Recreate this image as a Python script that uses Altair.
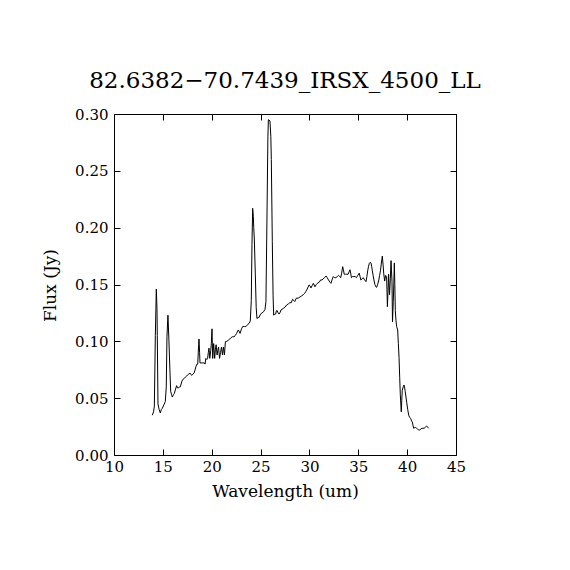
import altair as alt
import pandas as pd

wavelength = [
    13.92, 14.05, 14.13, 14.23, 14.33, 14.40, 14.43, 14.50, 14.62, 14.74, 14.84, 14.94,
    15.10, 15.25, 15.35, 15.42, 15.52, 15.62, 15.72, 15.80, 15.90, 15.97, 16.08, 16.17,
    16.30, 16.41, 16.50, 16.60, 16.70, 16.79, 16.95, 17.10, 17.25, 17.44, 17.60, 17.78,
    17.95, 18.05, 18.19, 18.30, 18.39, 18.50, 18.57, 18.66, 18.70, 18.76, 18.80, 18.95,
    19.10, 19.24, 19.32, 19.40, 19.50, 19.58, 19.65, 19.72, 19.80, 19.90, 19.96, 20.03,
    20.10, 20.20, 20.30, 20.38, 20.45, 20.55, 20.62, 20.70, 20.80, 20.90, 21.00, 21.10,
    21.20, 21.30, 21.40, 21.55, 21.70, 21.85, 21.95, 22.10, 22.28, 22.40, 22.55, 22.65,
    22.73, 22.90, 23.05, 23.17, 23.35, 23.50, 23.70, 23.85, 23.95, 24.05, 24.12, 24.19,
    24.26, 24.30, 24.36, 24.46, 24.55, 24.63, 24.75, 24.84, 25.00, 25.15, 25.30, 25.45,
    25.55, 25.66, 25.75, 25.80, 25.96, 26.05, 26.10, 26.20, 26.28, 26.34, 26.45, 26.55,
    26.62, 26.70, 26.80, 26.90, 27.00, 27.09, 27.33, 27.50, 27.67, 27.85, 28.00, 28.15,
    28.27, 28.40, 28.50, 28.66, 28.85, 29.03, 29.20, 29.37, 29.50, 29.64, 29.77, 29.96,
    30.05, 30.16, 30.28, 30.40, 30.57, 30.70, 30.80, 31.00, 31.15, 31.30, 31.40, 31.55,
    31.70, 31.82, 31.95, 32.10, 32.20, 32.35, 32.44, 32.55, 32.70, 32.85, 32.98, 33.10,
    33.20, 33.30, 33.40, 33.48, 33.56, 33.70, 33.80, 33.96, 34.05, 34.15, 34.22, 34.30,
    34.42, 34.55, 34.68, 34.80, 34.95, 35.10, 35.18, 35.26, 35.40, 35.50, 35.65, 35.79,
    35.88, 35.96, 36.05, 36.13, 36.22, 36.30, 36.37, 36.44, 36.52, 36.60, 36.70, 36.80,
    36.88, 36.98, 37.10, 37.18, 37.27, 37.35, 37.46, 37.53, 37.60, 37.70, 37.80, 37.90,
    37.98, 38.05, 38.10, 38.20, 38.28, 38.35, 38.40, 38.45, 38.50, 38.58, 38.64, 38.69,
    38.74, 38.79, 38.86, 38.93, 39.03, 39.10, 39.17, 39.24, 39.30, 39.40, 39.45, 39.50,
    39.60, 39.68, 39.75, 39.80, 39.88, 39.96, 40.06, 40.16, 40.27, 40.37, 40.45, 40.53,
    40.60, 40.67, 40.77, 40.87, 40.97, 41.07, 41.17, 41.28, 41.40, 41.50, 41.62, 41.74,
    41.87, 42.00, 42.10, 42.20,
]

flux = [
    0.035, 0.038, 0.043, 0.105, 0.146, 0.129, 0.105, 0.045, 0.040, 0.037, 0.040, 0.041,
    0.044, 0.047, 0.060, 0.104, 0.123, 0.101, 0.075, 0.056, 0.053, 0.051, 0.053, 0.054,
    0.058, 0.061, 0.059, 0.059, 0.060, 0.060, 0.065, 0.067, 0.068, 0.0695, 0.071, 0.072,
    0.070, 0.071, 0.072, 0.075, 0.078, 0.080, 0.080, 0.097, 0.102, 0.090, 0.081, 0.081,
    0.081, 0.081, 0.080, 0.085, 0.084, 0.085, 0.090, 0.094, 0.085, 0.092, 0.098, 0.111,
    0.085, 0.098, 0.085, 0.093, 0.097, 0.088, 0.092, 0.095, 0.085, 0.090, 0.095, 0.088,
    0.095, 0.088, 0.0997, 0.100, 0.101, 0.102, 0.103, 0.104, 0.104, 0.105, 0.107, 0.109,
    0.110, 0.107, 0.111, 0.113, 0.113, 0.113, 0.115, 0.116, 0.118, 0.136, 0.185, 0.217,
    0.210, 0.200, 0.190, 0.160, 0.130, 0.120, 0.121, 0.121, 0.124, 0.125, 0.126, 0.128,
    0.135, 0.213, 0.280, 0.295, 0.294, 0.280, 0.260, 0.188, 0.140, 0.123, 0.124, 0.124,
    0.127, 0.127, 0.125, 0.124, 0.1255, 0.1276, 0.129, 0.130, 0.132, 0.133, 0.134, 0.134,
    0.137, 0.136, 0.135, 0.138, 0.138, 0.139, 0.140, 0.141, 0.142, 0.144, 0.146, 0.1496,
    0.149, 0.147, 0.149, 0.151, 0.148, 0.150, 0.151, 0.152, 0.154, 0.154, 0.155, 0.156,
    0.1575, 0.156, 0.154, 0.152, 0.151, 0.155, 0.157, 0.156, 0.156, 0.157, 0.158, 0.157,
    0.156, 0.160, 0.1657, 0.163, 0.159, 0.159, 0.159, 0.159, 0.161, 0.163, 0.160, 0.156,
    0.157, 0.157, 0.157, 0.156, 0.158, 0.160, 0.157, 0.154, 0.155, 0.156, 0.154, 0.1525,
    0.157, 0.162, 0.166, 0.1686, 0.1695, 0.169, 0.166, 0.162, 0.158, 0.154, 0.150, 0.148,
    0.1475, 0.150, 0.154, 0.158, 0.162, 0.168, 0.175, 0.168, 0.160, 0.153, 0.158, 0.157,
    0.1305, 0.145, 0.159, 0.141, 0.155, 0.171, 0.162, 0.153, 0.117, 0.135, 0.152, 0.169,
    0.150, 0.127, 0.118, 0.113, 0.110, 0.098, 0.086, 0.068, 0.053, 0.038, 0.048, 0.057,
    0.060, 0.0616, 0.059, 0.056, 0.051, 0.046, 0.040, 0.035, 0.033, 0.032, 0.030, 0.029,
    0.026, 0.0235, 0.0240, 0.0244, 0.0235, 0.0226, 0.0222, 0.0220, 0.0228, 0.0235, 0.0235, 0.0235,
    0.0245, 0.0255, 0.0245, 0.0235,
]

x_ticks = [10, 15, 20, 25, 30, 35, 40, 45]
y_ticks = [0.0, 0.05, 0.10, 0.15, 0.20, 0.25, 0.30]
title_text = "82.6382\u221270.7439_IRSX_4500_LL"

df = pd.DataFrame({"w": wavelength, "f": flux})

FONT = "DejaVu Serif"
xscale = alt.Scale(domain=[10, 45], nice=False, zero=False)
yscale = alt.Scale(domain=[0, 0.30], nice=False, zero=False)

common = dict(domain=False, grid=False, tickSize=6, tickColor="black", tickWidth=1,
              offset=-6, labelColor="black", labelFont=FONT, labelFontSize=15,
              labelFlush=False, labelOverlap=False,
              titleColor="black", titleFont=FONT, titleFontSize=17, titleFontWeight="normal")

main = alt.Chart(df).mark_line(color="black", strokeWidth=1).encode(
    x=alt.X("w:Q", scale=xscale, axis=alt.Axis(
        orient="bottom", values=x_ticks, format="d", labelPadding=4,
        title="Wavelength (um)", titleBaseline="alphabetic", titleY=47, **common)),
    y=alt.Y("f:Q", scale=yscale, axis=alt.Axis(
        orient="left", values=y_ticks, format=".2f", labelPadding=6,
        title="Flux (Jy)", titleAngle=270, titleBaseline="alphabetic",
        titleAlign="center", titleX=-65, titleY=171, **common)),
)

frame = alt.Chart(df).mark_line(strokeOpacity=0).encode(
    x=alt.X("w:Q", scale=xscale, axis=alt.Axis(
        orient="top", values=x_ticks, labels=False, title="", titlePadding=0, **common)),
    y=alt.Y("f:Q", scale=yscale, axis=alt.Axis(
        orient="right", values=y_ticks, labels=False, title="", titlePadding=0, **common)),
)

chart = alt.layer(main, frame).resolve_axis(x="independent", y="independent").properties(
    width=342, height=341,
    autosize=alt.AutoSizeParams(type="none"),
    padding={"left": 106, "top": 106, "right": 100, "bottom": 100},
    background="white",
    title=alt.TitleParams(title_text, font=FONT, fontSize=23, fontWeight="normal",
                          color="black", anchor="middle", baseline="alphabetic",
                          offset=0, dy=4),
).configure_view(stroke="black", strokeWidth=1)

chart.save("out.html", embed_options={"renderer": "svg", "actions": False})
